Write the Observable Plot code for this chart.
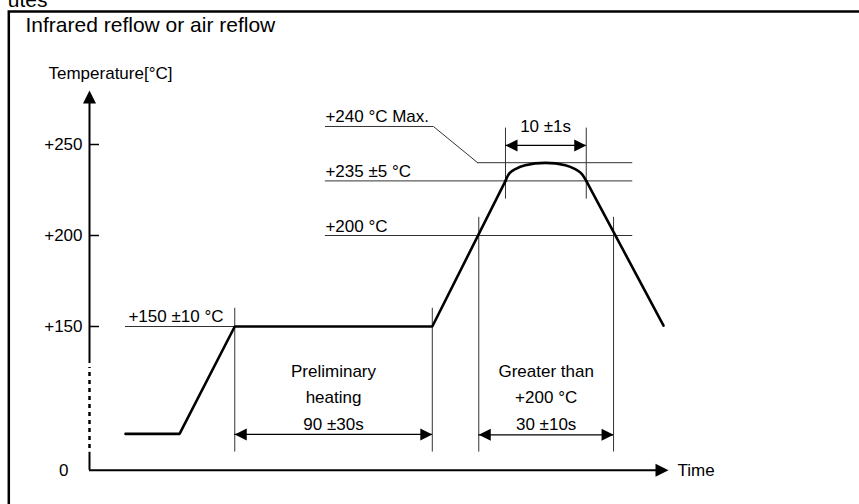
<!DOCTYPE html>
<html><head><meta charset="utf-8">
<script src="https://cdn.jsdelivr.net/npm/d3@7"></script>
<script src="https://cdn.jsdelivr.net/npm/@observablehq/plot@0.6"></script>
<style>
html,body{margin:0;padding:0;background:#fff;overflow:hidden;}
#wrap{position:relative;width:859px;height:504px;overflow:hidden;}
#chart{position:absolute;left:0;top:0;}
</style></head><body>
<div id="wrap"><div id="chart"></div></div>
<script>
// ---- data (time in arbitrary schematic units, temperature in °C on the drawn scale) ----
const riseTime = [6.2, 15.5, 25, 59, 71.6];
const riseTemp = [91, 91, 150, 150, 230];
const peakTime = [71.6, 72.3, 73.3, 75.0, 78.5, 81.9, 83.6, 84.6, 85.5];
const peakTemp = [230, 234.3, 236.5, 238.6, 239.9, 238.6, 236.5, 234.3, 230];
const fallTime = [85.5, 98.8];
const fallTemp = [230, 150.5];

const guideLevels = [240, 230, 200, 150];
const guideFrom   = [66.8, 40.6, 40.6, 6.2];
const guideTo     = [93.5, 93.5, 93.5, 25];

const markerTimes = [25, 59, 67, 90.2, 71.6, 85.5];
const markerLow   = [81, 81, 81, 81, 220, 220];
const markerHigh  = [160, 160, 210, 210, 259, 259];

const leaderTime = [40.6, 59.2, 66.8];
const leaderTemp = [259.9, 259.9, 240];

const levelLabels = ["+240 °C Max.", "+235 ±5 °C", "+200 °C", "+150 ±10 °C"];
const levelLabelTime = [40.6, 40.6, 40.6, 6.7];
const levelLabelTemp = [262.1, 231.9, 201.8, 152.4];

const spanFrom  = [71.6, 25, 67];
const spanTo    = [85.5, 59, 90.2];
const spanLevel = [249.5, 90.7, 90.5];

const noteLabels = ["10 ±1s", "Preliminary", "heating", "90 ±30s", "Greater than", "+200 °C", "30 ±10s"];
const noteTime   = [78.5, 42, 42, 42, 78.6, 78.6, 78.6];
const noteTemp   = [256.8, 122, 107.7, 92.9, 122.5, 107.9, 92.9];

const tickValues = [150, 200, 250];
const tickLabels = ["+150", "+200", "+250"];
const originValue = 71;          // broken axis: bottom of the drawing
const originLabel = "0";
const timeEnd = 99.66;
const tempEnd = 279.7;

// y-axis segments (solid and broken/dotted)
const axisSolidFrom = [71, 129.7];
const axisSolidTo   = [80.9, 272.5];
const axisDotFrom = [83];
const axisDotTo   = [127.5];

// ---- build tables ----
const pts = (ts, vs) => ts.map((t, i) => ({t, v: vs[i]}));
const rise = pts(riseTime, riseTemp);
const peak = pts(peakTime, peakTemp);
const fall = pts(fallTime, fallTemp);
const leader = pts(leaderTime, leaderTemp);
const guides = guideLevels.map((v, i) => ({v, a: guideFrom[i], b: guideTo[i]}));
const markers = markerTimes.map((t, i) => ({t, a: markerLow[i], b: markerHigh[i]}));
const levelText = levelLabels.map((s, i) => ({s, t: levelLabelTime[i], v: levelLabelTemp[i]}));
const spans = spanLevel.map((v, i) => ({v, a: spanFrom[i], b: spanTo[i]}));
const heads = spans.flatMap(d => [{t: d.a, v: d.v, r: 180}, {t: d.b, v: d.v, r: 0}]);
const notes = noteLabels.map((s, i) => ({s, t: noteTime[i], v: noteTemp[i]}));
const ticks = tickValues.map((v, i) => ({v, s: tickLabels[i]}));
const axisSolid = axisSolidFrom.map((a, i) => ({a, b: axisSolidTo[i]}));
const axisDot = axisDotFrom.map((a, i) => ({a, b: axisDotTo[i]}));
const axisHeads = [{t: 0, v: tempEnd, r: -90}, {t: timeEnd, v: originValue, r: 0}];

const arrowHead = {draw(ctx) { ctx.moveTo(0, 0); ctx.lineTo(-12, -6); ctx.lineTo(-12, 6); ctx.closePath(); }};
const axisHead = {draw(ctx) { ctx.moveTo(0, 0); ctx.lineTo(-13, -6.5); ctx.lineTo(-13, 6.5); ctx.closePath(); }};

const F = "Liberation Sans, Arial, Helvetica, sans-serif";
const chart = Plot.plot({
  width: 859, height: 504, margin: 0,
  style: {fontFamily: F, fontSize: "17px", background: "transparent", color: "#000"},
  x: {domain: [0, 100], range: [89, 670], axis: null},
  y: {domain: [150, 250], range: [326, 144], axis: null},
  marks: [
    // outer frame (left and top edges visible; the rest lies outside the picture)
    Plot.frame({stroke: "#000", strokeWidth: 2.5, insetLeft: 8.3, insetTop: 11, insetRight: -20, insetBottom: -20}),
    Plot.text(["utes"], {frameAnchor: "top-left", dx: 47, dy: 6, textAnchor: "end", lineAnchor: "bottom", fontSize: 21}),
    Plot.text(["Infrared reflow or air reflow"], {frameAnchor: "top-left", dx: 25, dy: 31.5, textAnchor: "start", lineAnchor: "bottom", fontSize: 21}),
    Plot.text(["Temperature[°C]"], {frameAnchor: "top-left", dx: 48, dy: 78, textAnchor: "start", lineAnchor: "bottom", fontSize: 17}),
    // guide lines
    Plot.ruleY(guides, {y: "v", x1: "a", x2: "b", stroke: "#333", strokeWidth: 1}),
    Plot.ruleX(markers, {x: "t", y1: "a", y2: "b", stroke: "#333", strokeWidth: 1}),
    Plot.line(leader, {x: "t", y: "v", stroke: "#333", strokeWidth: 1}),
    Plot.text(levelText, {x: "t", y: "v", text: "s", textAnchor: "start", lineAnchor: "bottom"}),
    // dimension arrows
    Plot.ruleY(spans, {y: "v", x1: "a", x2: "b", stroke: "#000", strokeWidth: 1.2}),
    Plot.dot(heads, {x: "t", y: "v", rotate: "r", symbol: arrowHead, fill: "#000", stroke: "none"}),
    Plot.text(notes, {x: "t", y: "v", text: "s", textAnchor: "middle", lineAnchor: "bottom"}),
    // axes
    Plot.ruleX(axisSolid, {x: () => 0, y1: "a", y2: "b", stroke: "#000", strokeWidth: 2}),
    Plot.ruleX(axisDot, {x: () => 0, y1: "a", y2: "b", stroke: "#000", strokeWidth: 2.5, strokeDasharray: "4,4"}),
    Plot.ruleY([originValue], {y: d => d, x1: () => 0, x2: () => timeEnd - 1.5, stroke: "#000", strokeWidth: 2}),
    Plot.dot(axisHeads, {x: "t", y: "v", rotate: "r", symbol: axisHead, fill: "#000", stroke: "none"}),
    Plot.ruleY(ticks, {y: "v", x1: () => 0, x2: () => 1.72, stroke: "#000", strokeWidth: 1.5}),
    Plot.text(ticks, {x: () => 0, y: "v", text: "s", textAnchor: "end", dx: -7}),
    Plot.text([originLabel], {x: () => 0, y: () => originValue, text: d => d, textAnchor: "end", dx: -21}),
    Plot.text(["Time"], {x: () => timeEnd, y: () => originValue, text: d => d, textAnchor: "start", dx: 9}),
    // profile
    Plot.line(rise, {x: "t", y: "v", stroke: "#000", strokeWidth: 2.6, strokeLinejoin: "miter"}),
    Plot.line(peak, {x: "t", y: "v", stroke: "#000", strokeWidth: 2.6, curve: "catmull-rom"}),
    Plot.line(fall, {x: "t", y: "v", stroke: "#000", strokeWidth: 2.6})
  ]
});
document.getElementById("chart").appendChild(chart);
</script>
</body></html>
